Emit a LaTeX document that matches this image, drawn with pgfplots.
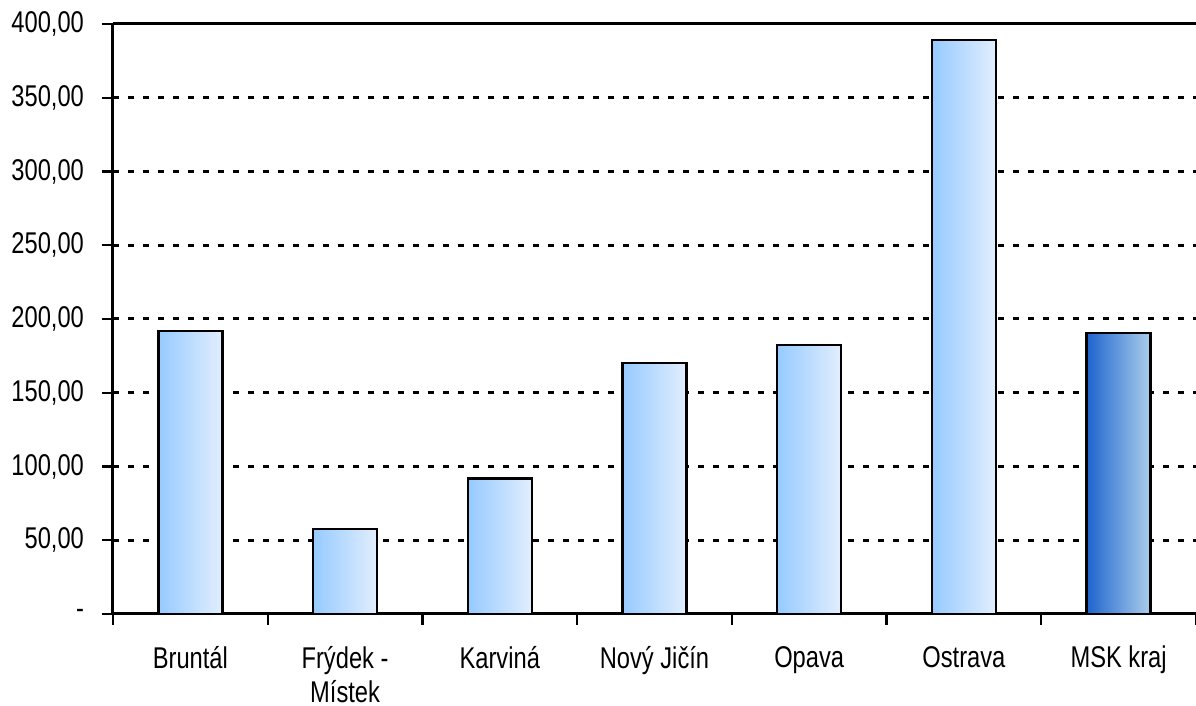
\documentclass[border=0pt]{standalone}
\usepackage{pgfplots}
\pgfplotsset{compat=1.18}
\usepackage{fontspec}
\setmainfont{Liberation Sans}[FakeStretch=0.79]
\definecolor{barL}{RGB}{150,202,255}
\definecolor{barM}{RGB}{196,223,253}
\definecolor{barR}{RGB}{226,238,253}
\definecolor{mskL}{RGB}{30,100,205}
\definecolor{mskM}{RGB}{115,158,218}
\definecolor{mskR}{RGB}{172,206,236}
\pgfplotsset{
  regbar/.style={ybar, bar width=32pt, bar shift=0pt, draw=black, line width=1.2pt,
    left color=barL, middle color=barM, right color=barR},
  mskbar/.style={ybar, bar width=32pt, bar shift=0pt, draw=black, line width=1.2pt,
    left color=mskL, middle color=mskM, right color=mskR},
}
\begin{document}
\begin{tikzpicture}
\begin{axis}[
  at={(0,0)}, anchor=south west,
  scale only axis,
  width=541.5pt, height=295pt,
  xmin=-0.5, xmax=6.5,
  ymin=0, ymax=400,
  axis x line=bottom, axis y line=left,
  axis line style={line width=1.5pt, -},
  xtick={-0.5,0.5,...,6.5},
  xticklabels={},
  extra x ticks={0,...,6},
  extra x tick labels={Bruntál,{Frýdek -\\Místek},Karviná,Nový Jičín,Opava,Ostrava,MSK kraj},
  extra x tick style={major tick length=0pt, xticklabel style={align=center, yshift=-12.5pt}},
  ytick={0,50,...,400},
  yticklabels={-,{50,00},{100,00},{150,00},{200,00},{250,00},{300,00},{350,00},{400,00}},
  tick style={line width=1.2pt, black},
  major tick length=5.5pt,
  tick align=outside,
  ymajorgrids,
  major grid style={black, line width=1.5pt, dash pattern=on 3pt off 4.5pt},
  tick label style={font=\fontsize{15}{17}\selectfont},
  yticklabel style={xshift=-5.5pt},
  clip=false,
]
\addplot[regbar] coordinates {(0,192.0)};
\addplot[regbar] coordinates {(1,57.8)};
\addplot[regbar] coordinates {(2,91.9)};
\addplot[regbar] coordinates {(3,170.1)};
\addplot[regbar] coordinates {(4,182.3)};
\addplot[regbar] coordinates {(5,389.1)};
\addplot[mskbar] coordinates {(6,190.7)};
\draw[black, line width=1.5pt] (axis cs:-0.5,400) -- (axis cs:6.5,400);
\end{axis}
\pgfresetboundingbox
\path (-56.5pt,-46pt) rectangle (541.5pt,307pt);
\end{tikzpicture}
\end{document}
